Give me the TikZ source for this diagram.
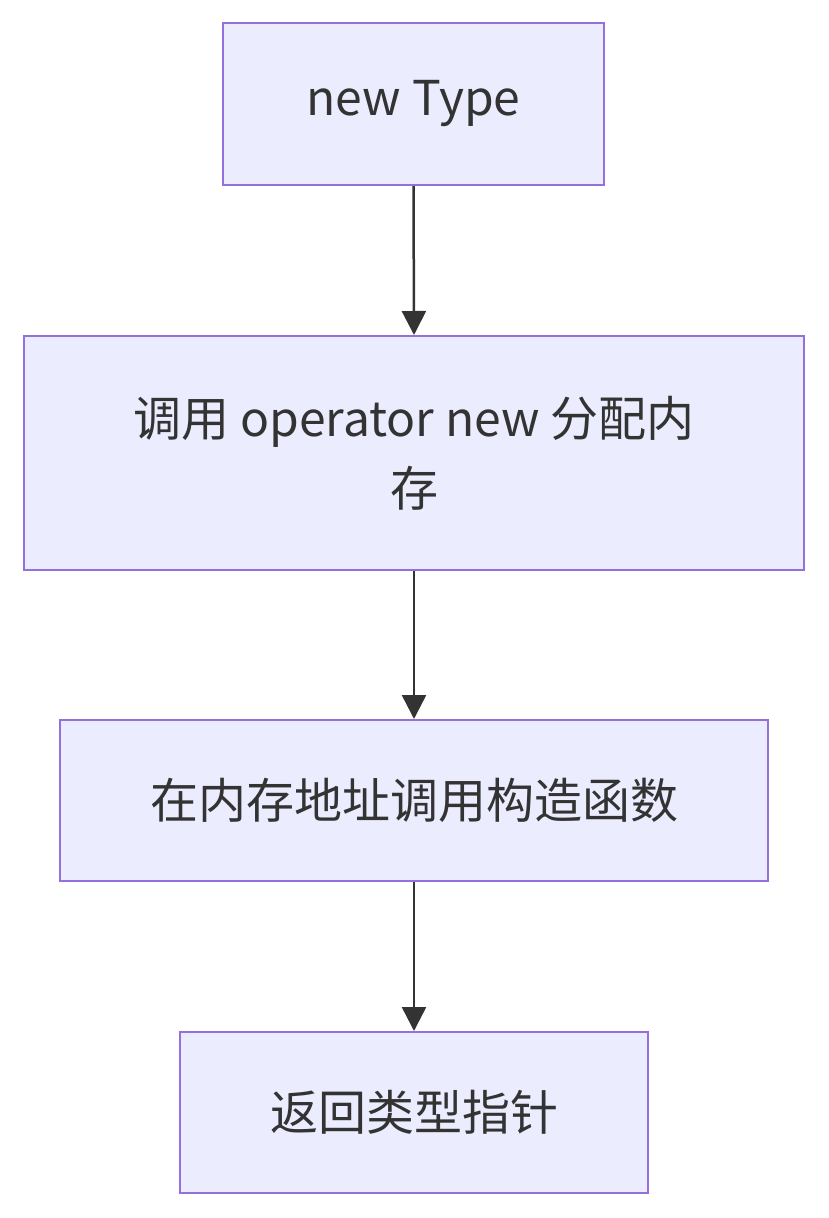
\documentclass[tikz,border=0pt]{standalone}
\usepackage{fontspec}
\setmainfont{Noto Sans CJK SC}
\usetikzlibrary{arrows.meta}
\definecolor{boxfill}{HTML}{ECECFF}
\definecolor{boxline}{HTML}{9370DB}
\definecolor{ink}{HTML}{333333}
\begin{document}
\begin{tikzpicture}[x=1pt,y=-1pt,-{Triangle[width=24pt,length=24pt]}]
            \tikzstyle{stepbox}=[rectangle,draw=boxline,fill=boxfill,line width=2pt,text=ink,
              align=center,inner sep=0pt,font=\fontsize{48}{70}\selectfont]
            \useasboundingbox (0,0) rectangle (828,1218);

            \node[stepbox,minimum width=381pt,minimum height=162pt] (S-1) at (413.5,104) {new Type};
            \node[stepbox,minimum width=780pt,minimum height=234pt] (S-2) at (414,453) {调用 operator new 分配内\\存};
            \node[stepbox,minimum width=708pt,minimum height=161pt] (S-3) at (414,800.5) {在内存地址调用构造函数};
            \node[stepbox,minimum width=468pt,minimum height=161pt] (S-4) at (414,1112.5) {返回类型指针};

            \foreach \from/\to in {1/2, 2/3, 3/4}
              \draw[ink,line width=2.5pt] (S-\from.south) -- (S-\to.north);
        \end{tikzpicture}
\end{document}
